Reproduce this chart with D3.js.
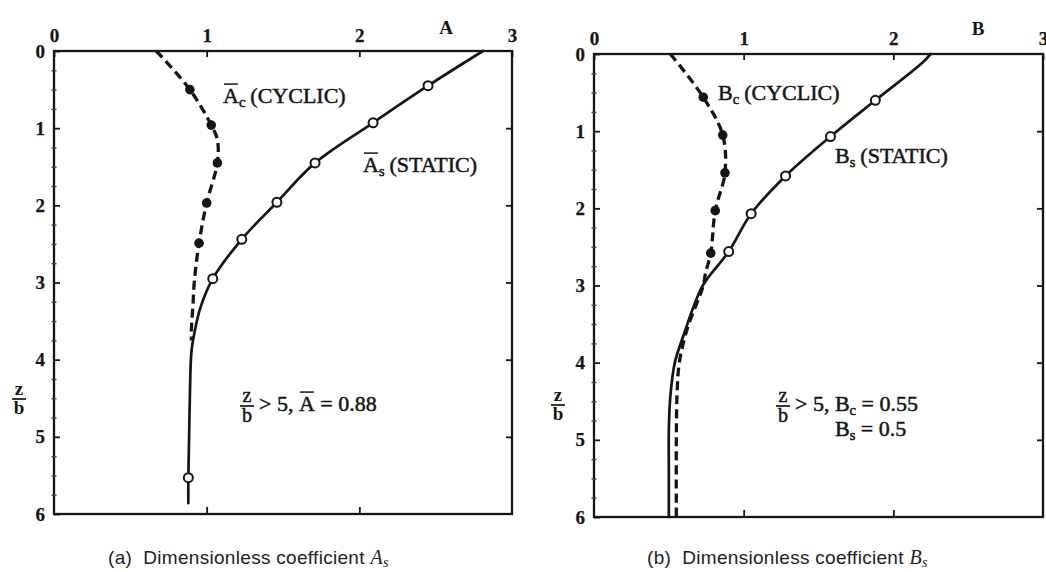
<!DOCTYPE html>
<html>
<head>
<meta charset="utf-8">
<script src="https://cdn.jsdelivr.net/npm/d3@7"></script>
<style>
  body { margin: 0; background: #fff; }
  svg { display: block; }
</style>
</head>
<body>
<svg id="chart" width="1046" height="572"></svg>
<script>
// ---- axes ----
const depthTicks = [0, 1, 2, 3, 4, 5, 6];          // z/b
const depthMinorTicks = [0.25, 0.5, 0.75, 1.25, 1.5, 1.75, 2.25, 2.5, 2.75,
                         3.25, 3.5, 3.75, 4.25, 4.5, 4.75, 5.25, 5.5, 5.75];
const coefTicks = [0, 1, 2, 3];                     // A or B

// ---- panel (a): coefficient A ----
// static curve (solid) and its measured points (open circles)
const aStaticZ   = [0, 0.45, 0.93, 1.45, 1.96, 2.44, 2.95, 3.32, 3.65, 3.9, 4.48, 5.0, 5.53, 5.86];
const aStaticVal = [2.81, 2.45, 2.09, 1.71, 1.46, 1.23, 1.04, 0.96, 0.92, 0.90, 0.89, 0.885, 0.88, 0.88];
const aStaticPtZ   = [0.45, 0.93, 1.45, 1.96, 2.44, 2.95, 5.53];
const aStaticPtVal = [2.45, 2.09, 1.71, 1.46, 1.23, 1.04, 0.88];
// cyclic curve (dashed) and its measured points (filled circles)
const aCyclicZ   = [0, 0.5, 0.96, 1.15, 1.45, 1.97, 2.49, 2.97, 3.3, 3.61, 3.75];
const aCyclicVal = [0.67, 0.89, 1.03, 1.07, 1.07, 1.0, 0.95, 0.92, 0.91, 0.90, 0.90];
const aCyclicPtZ   = [0.5, 0.96, 1.45, 1.97, 2.49];
const aCyclicPtVal = [0.89, 1.03, 1.07, 1.0, 0.95];

// ---- panel (b): coefficient B ----
const bStaticZ   = [0, 0.12, 0.6, 1.07, 1.58, 2.07, 2.56, 2.99, 3.3, 3.58, 4.0, 4.44, 4.87, 5.4, 6.0];
const bStaticVal = [2.25, 2.19, 1.88, 1.58, 1.28, 1.05, 0.90, 0.73, 0.66, 0.61, 0.54, 0.51, 0.50, 0.50, 0.50];
const bStaticPtZ   = [0.6, 1.07, 1.58, 2.07, 2.56];
const bStaticPtVal = [1.88, 1.58, 1.28, 1.05, 0.90];
const bCyclicZ   = [0, 0.56, 1.05, 1.54, 2.03, 2.58, 2.84, 3.0, 3.58, 4.0, 4.4, 5.0, 6.0];
const bCyclicVal = [0.51, 0.73, 0.86, 0.875, 0.81, 0.78, 0.745, 0.73, 0.62, 0.57, 0.555, 0.55, 0.55];
const bCyclicPtZ   = [0.56, 1.05, 1.54, 2.03, 2.58];
const bCyclicPtVal = [0.73, 0.86, 0.875, 0.81, 0.78];

const INK = "#151515";
const SERIF = "'Liberation Serif', 'Times New Roman', serif";
const SANS = "'Liberation Sans', Arial, sans-serif";
const NB = "\u00a0";

const svg = d3.select("#chart");
svg.append("rect").attr("width", 1046).attr("height", 572).attr("fill", "#fff");

const zip = (zs, vs) => zs.map((z, i) => ({ z, v: vs[i] }));

// sequence of text pieces; supports subscripts and overbars
function richText(g, x, y, pieces, size) {
  let cx = x;
  pieces.forEach(p => {
    const fs = p.sub ? size * 0.66 : size;
    const t = g.append("text")
      .attr("x", cx).attr("y", p.sub ? y + size * 0.2 : y)
      .attr("font-family", SERIF).attr("font-size", fs)
      .attr("fill", INK).attr("stroke", INK).attr("stroke-width", 0.5)
      .text(p.t);
    const w = t.node().getComputedTextLength();
    if (p.bar) {
      g.append("line")
        .attr("x1", cx + 1).attr("x2", cx + w - 1)
        .attr("y1", y - size * 0.86).attr("y2", y - size * 0.86)
        .attr("stroke", INK).attr("stroke-width", 1.5);
    }
    cx += w + (p.gap || 0);
  });
  return cx;
}

// stacked z over b
function zOverB(g, cx, lineY, size, bold) {
  const sw = bold ? 0 : 0.5;
  g.append("text").attr("x", cx).attr("y", lineY - 4)
    .attr("text-anchor", "middle").attr("font-family", SERIF)
    .attr("font-weight", bold ? "bold" : "normal")
    .attr("font-size", size).attr("fill", INK)
    .attr("stroke", INK).attr("stroke-width", sw).text("z");
  g.append("line").attr("x1", cx - 7).attr("x2", cx + 7)
    .attr("y1", lineY).attr("y2", lineY)
    .attr("stroke", INK).attr("stroke-width", 1.7);
  g.append("text").attr("x", cx).attr("y", lineY + size * 0.8)
    .attr("text-anchor", "middle").attr("font-family", SERIF)
    .attr("font-weight", bold ? "bold" : "normal")
    .attr("font-size", size).attr("fill", INK)
    .attr("stroke", INK).attr("stroke-width", sw).text("b");
}

function drawPanel(cfg) {
  const g = svg.append("g");
  const x = d3.scaleLinear().domain([0, 3]).range([cfg.x0, cfg.x1]);
  const y = d3.scaleLinear().domain([0, 6]).range([cfg.y0, cfg.y1]);

  // frame
  g.append("rect")
    .attr("x", cfg.x0).attr("y", cfg.y0)
    .attr("width", cfg.x1 - cfg.x0).attr("height", cfg.y1 - cfg.y0)
    .attr("fill", "none").attr("stroke", INK).attr("stroke-width", 2.3);

  const styleAxis = sel => {
    sel.select(".domain").remove();
    sel.selectAll(".tick line").attr("stroke", INK).attr("stroke-width", 1.8);
    sel.selectAll(".tick text")
      .attr("font-family", SERIF).attr("font-weight", "bold")
      .attr("font-size", 19).attr("fill", INK)
      .attr("stroke", INK).attr("stroke-width", 0.25);
  };

  // top: coefficient labels, ticks pointing down
  g.append("g").attr("transform", `translate(0,${cfg.y0})`)
    .call(d3.axisTop(x).tickValues(coefTicks).tickSize(-6).tickPadding(9)
      .tickFormat(d3.format("d")))
    .call(styleAxis);

  // bottom: ticks pointing up, no labels
  g.append("g").attr("transform", `translate(0,${cfg.y1})`)
    .call(d3.axisBottom(x).tickValues([1, 2]).tickSize(-7).tickFormat(""))
    .call(styleAxis);

  // left: depth labels, ticks pointing right
  g.append("g").attr("transform", `translate(${cfg.x0},0)`)
    .call(d3.axisLeft(y).tickValues(depthTicks).tickSize(-6).tickPadding(9)
      .tickFormat(d3.format("d")))
    .call(styleAxis);

  // left minor ticks straddling the frame
  g.append("g").attr("transform", `translate(${cfg.x0 + 2.5},0)`)
    .call(d3.axisLeft(y).tickValues(depthMinorTicks).tickSize(5).tickFormat(""))
    .call(sel => {
      sel.select(".domain").remove();
      sel.selectAll(".tick line").attr("stroke", "#444").attr("stroke-width", 1.4);
    });

  // right: ticks pointing left
  g.append("g").attr("transform", `translate(${cfg.x1},0)`)
    .call(d3.axisRight(y).tickValues([1, 2, 3, 4, 5]).tickSize(-6).tickFormat(""))
    .call(styleAxis);

  // axis letters
  g.append("text").attr("x", cfg.letterX).attr("y", cfg.letterY)
    .attr("text-anchor", "middle").attr("font-family", SERIF)
    .attr("font-weight", "bold").attr("font-size", 19).attr("fill", INK)
    .text(cfg.letter);
  zOverB(g, cfg.zbX, cfg.zbY, 19, true);

  const line = d3.line()
    .x(d => x(d.v)).y(d => y(d.z))
    .curve(d3.curveCatmullRom.alpha(0.5));

  // static: solid line with open circles
  g.append("path").datum(zip(cfg.sZ, cfg.sV))
    .attr("d", line).attr("fill", "none")
    .attr("stroke", INK).attr("stroke-width", 2.7)
    .attr("stroke-linecap", "round");
  // cyclic: dashed line with filled circles
  g.append("path").datum(zip(cfg.cZ, cfg.cV))
    .attr("d", line).attr("fill", "none")
    .attr("stroke", INK).attr("stroke-width", 3.3)
    .attr("stroke-dasharray", "9,5");

  g.selectAll(".cpt").data(zip(cfg.cPZ, cfg.cPV)).join("circle")
    .attr("cx", d => x(d.v)).attr("cy", d => y(d.z)).attr("r", 4.8)
    .attr("fill", INK);
  g.selectAll(".spt").data(zip(cfg.sPZ, cfg.sPV)).join("circle")
    .attr("cx", d => x(d.v)).attr("cy", d => y(d.z)).attr("r", 4.5)
    .attr("fill", "#fff").attr("stroke", INK).attr("stroke-width", 2);

  cfg.notes(g);
}

drawPanel({
  x0: 54, x1: 512, y0: 51, y1: 514,
  letter: "A", letterX: 446, letterY: 34, zbX: 19, zbY: 399,
  sZ: aStaticZ, sV: aStaticVal, sPZ: aStaticPtZ, sPV: aStaticPtVal,
  cZ: aCyclicZ, cV: aCyclicVal, cPZ: aCyclicPtZ, cPV: aCyclicPtVal,
  notes: g => {
    richText(g, 223, 103, [{ t: "A", bar: true }, { t: "c", sub: true, gap: 5 }, { t: "(CYCLIC)" }], 22);
    richText(g, 363, 172, [{ t: "A", bar: true }, { t: "s", sub: true, gap: 5 }, { t: "(STATIC)" }], 22);
    zOverB(g, 247, 406, 20, false);
    richText(g, 259, 411, [{ t: ">" + NB + "5," + NB }, { t: "A", bar: true }, { t: NB + "=" + NB + "0.88" }], 22);
  }
});

drawPanel({
  x0: 594, x1: 1043, y0: 54, y1: 517,
  letter: "B", letterX: 978, letterY: 35, zbX: 558, zbY: 405,
  sZ: bStaticZ, sV: bStaticVal, sPZ: bStaticPtZ, sPV: bStaticPtVal,
  cZ: bCyclicZ, cV: bCyclicVal, cPZ: bCyclicPtZ, cPV: bCyclicPtVal,
  notes: g => {
    richText(g, 718, 100, [{ t: "B" }, { t: "c", sub: true, gap: 5 }, { t: "(CYCLIC)" }], 22);
    richText(g, 835, 163, [{ t: "B" }, { t: "s", sub: true, gap: 5 }, { t: "(STATIC)" }], 22);
    zOverB(g, 783, 406, 20, false);
    richText(g, 795, 411, [{ t: ">" + NB + "5," + NB + "B" }, { t: "c", sub: true }, { t: NB + "=" + NB + "0.55" }], 22);
    richText(g, 835, 436, [{ t: "B" }, { t: "s", sub: true }, { t: NB + "=" + NB + "0.5" }], 22);
  }
});

// sub-figure captions
function caption(x, label, sym) {
  const t = svg.append("text").attr("x", x).attr("y", 564)
    .attr("font-family", SANS).attr("font-size", 19)
    .attr("letter-spacing", 0.3).attr("fill", "#222");
  t.append("tspan").text(label + NB + NB + "Dimensionless coefficient ");
  t.append("tspan").attr("font-family", SERIF).attr("font-style", "italic")
    .attr("font-size", 20).text(sym);
  t.append("tspan").attr("font-family", SERIF).attr("font-style", "italic")
    .attr("font-size", 14).attr("dy", 3).text("s");
}
caption(108, "(a)", "A");
caption(647, "(b)", "B");
</script>
</body>
</html>
